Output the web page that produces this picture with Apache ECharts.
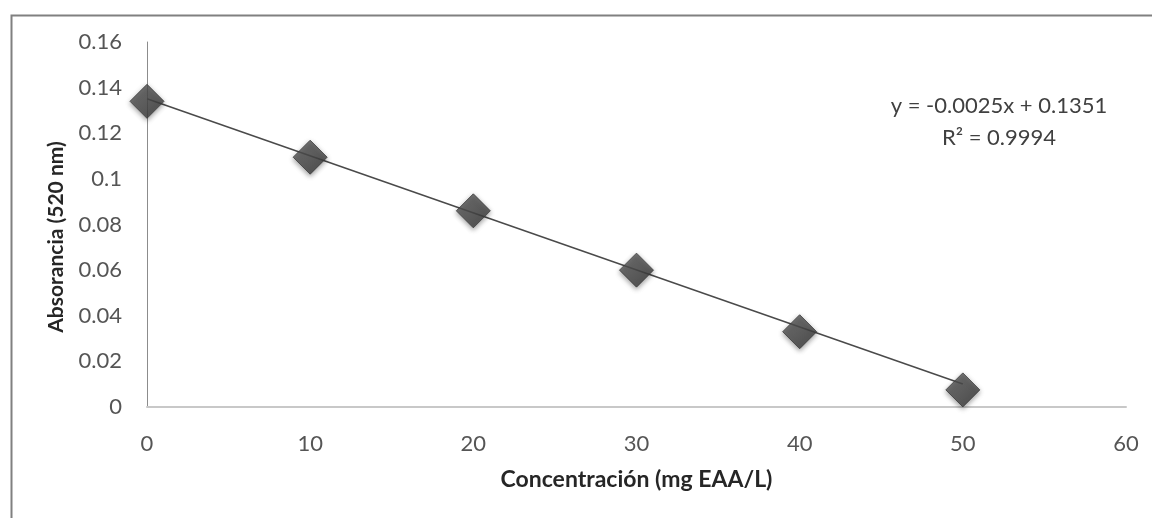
<!DOCTYPE html>
<html>
<head>
<meta charset="utf-8">
<script src="https://cdn.jsdelivr.net/npm/echarts@6/dist/echarts.min.js"></script>
<style>
html,body{margin:0;padding:0;background:#fff;}
#chart{width:1152px;height:518px;}
</style>
</head>
<body>
<div id="chart"></div>
<script>
// Data
const concentrations = [0, 10, 20, 30, 40, 50];
const absorbance = [0.134, 0.1095, 0.086, 0.060, 0.033, 0.0075];
// Trendline endpoints (from the printed equation y = -0.0025x + 0.1351)
const trendX = [0, 50];
const trendY = [0.1351, 0.0101];
const equationLines = ['y = -0.0025x + 0.1351', 'R² = 0.9994'];
const xTitle = 'Concentración (mg EAA/L)';
const yTitle = 'Absorancia (520 nm)';

const font = 'Lato, Calibri, "Liberation Sans", sans-serif';
const chart = echarts.init(document.getElementById('chart'), null, {renderer: 'canvas'});

chart.setOption({
  animation: false,
  backgroundColor: '#ffffff',
  grid: {left: 147, right: 26, top: 42, bottom: 111, containLabel: false},
  xAxis: {
    type: 'value', min: 0, max: 60, interval: 10,
    name: xTitle, nameLocation: 'middle', nameGap: 61,
    nameTextStyle: {fontFamily: font, fontSize: 23, fontWeight: 'bold', color: '#262626'},
    axisLine: {show: true, onZero: false, lineStyle: {color: '#c8c8c8', width: 2}},
    axisTick: {show: false},
    splitLine: {show: false},
    axisLabel: {fontFamily: font, fontSize: 22, color: '#555555', margin: 26}
  },
  yAxis: {
    type: 'value', min: 0, max: 0.16, interval: 0.02,
    axisLine: {show: true, lineStyle: {color: '#8c8c8c', width: 1}},
    axisTick: {show: false},
    splitLine: {show: false},
    axisLabel: {fontFamily: font, fontSize: 22, color: '#555555', margin: 25}
  },
  series: [
    {
      type: 'line',
      data: trendX.map((x, i) => [x, trendY[i]]),
      symbol: 'none',
      lineStyle: {color: '#4a4a4a', width: 1.5},
      z: 2,
      silent: true
    },
    {
      type: 'scatter',
      data: concentrations.map((x, i) => [x, absorbance[i]]),
      symbol: 'diamond',
      symbolSize: 34,
      itemStyle: {
        color: new echarts.graphic.LinearGradient(0, 0, 1, 1, [
          {offset: 0, color: '#5e5e5e'},
          {offset: 0.5, color: '#4a4a4a'},
          {offset: 1, color: '#333333'}
        ]),
        borderColor: '#3a3a3a',
        borderWidth: 1,
        shadowBlur: 5,
        shadowColor: 'rgba(0,0,0,0.45)',
        shadowOffsetY: 2
      },
      z: 3
    }
  ],
  graphic: [
    {
      type: 'rect',
      left: 9, top: 13,
      shape: {width: 1300, height: 700},
      style: {fill: 'none', stroke: '#808080', lineWidth: 2},
      silent: true
    },
    {
      type: 'text',
      x: 999, y: 106,
      style: {
        text: equationLines[0],
        fontFamily: font, fontSize: 22, fill: '#404040',
        align: 'center', verticalAlign: 'middle'
      },
      silent: true
    },
    {
      type: 'text',
      x: 999, y: 138,
      style: {
        text: equationLines[1],
        fontFamily: font, fontSize: 22, fill: '#404040',
        align: 'center', verticalAlign: 'middle'
      },
      silent: true
    },
    {
      type: 'text',
      x: 56, y: 237,
      rotation: Math.PI / 2,
      style: {
        text: yTitle,
        fontFamily: font, fontSize: 21, fontWeight: 'bold', fill: '#262626',
        align: 'center', verticalAlign: 'middle'
      },
      silent: true
    }
  ]
});
</script>
</body>
</html>
